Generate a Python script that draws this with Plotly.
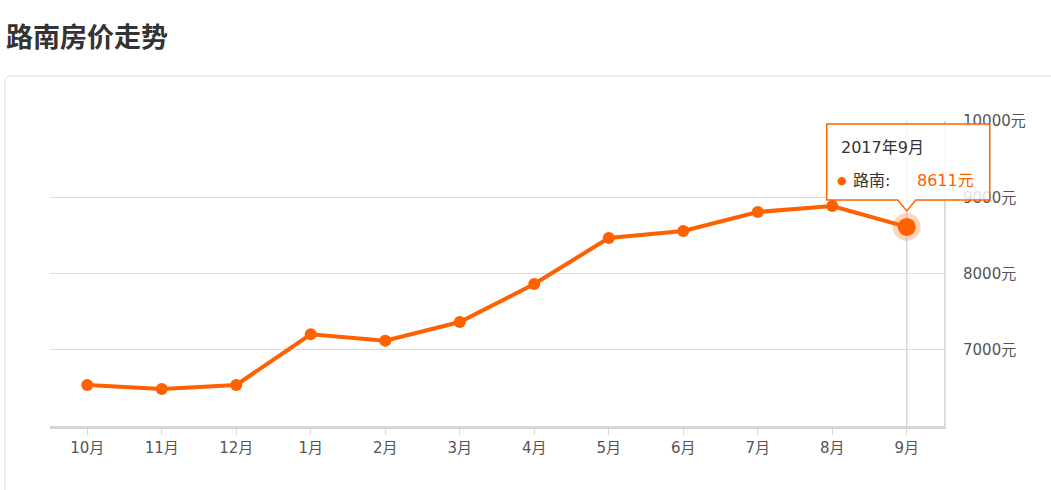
import plotly.graph_objects as go

months = ["10月", "11月", "12月", "1月", "2月", "3月", "4月", "5月", "6月", "7月", "8月", "9月"]
prices = [6538, 6485, 6538, 7203, 7119, 7364, 7862, 8466, 8557, 8807, 8885, 8611]
y_ticks = [7000, 8000, 9000, 10000]
y_labels = ["7000元", "8000元", "9000元", "10000元"]
title_text = "路南房价走势"
series_name = "路南"
tip_title = "2017年9月"

ORANGE = "#ff6000"
FONT = "DejaVu Sans, Noto Sans CJK SC"
CJK = "Noto Sans CJK SC"
hi_idx = len(months) - 1
Y_MIN, Y_MAX = 6000, 10000

# paper position of the highlighted point (derived from the axis ranges)
hi_px = (hi_idx + 0.5) / len(months)
hi_py = (prices[hi_idx] - Y_MIN) / (Y_MAX - Y_MIN)

fig = go.Figure()
fig.add_trace(go.Scatter(
    x=months, y=prices, mode="lines+markers",
    line=dict(color=ORANGE, width=4),
    marker=dict(color=ORANGE, size=12),
    hoverinfo="skip", showlegend=False, cliponaxis=False,
))
fig.add_trace(go.Scatter(
    x=[months[hi_idx]], y=[prices[hi_idx]], mode="markers",
    marker=dict(color="rgba(255,96,0,0.25)", size=28),
    hoverinfo="skip", showlegend=False, cliponaxis=False,
))
fig.add_trace(go.Scatter(
    x=[months[hi_idx]], y=[prices[hi_idx]], mode="markers",
    marker=dict(color=ORANGE, size=18),
    hoverinfo="skip", showlegend=False, cliponaxis=False,
))

shapes = [
    # crosshair
    dict(type="line", xref="x", yref="paper", x0=hi_idx, x1=hi_idx, y0=0, y1=1,
         line=dict(color="#c8c8c8", width=1), layer="below"),
    # outer container border (rounded top-left)
    dict(type="path", xref="paper", yref="paper", xsizemode="pixel", ysizemode="pixel",
         xanchor=0, yanchor=0,
         path="M -45,-80 L -45,344 Q -45,350 -39,350 L 1020,350",
         line=dict(color="#dcdcdc", width=1)),
    # tooltip callout
    dict(type="path", xref="paper", yref="paper", xsizemode="pixel", ysizemode="pixel",
         xanchor=hi_px, yanchor=hi_py,
         path="M -80,103 L 83,103 L 83,27 L 9,27 L 0,16 L -9,27 L -80,27 Z",
         fillcolor="rgba(255,255,255,0.82)", line=dict(color=ORANGE, width=1.5), layer="above"),
]

annotations = [
    dict(text=f"<b>{title_text}</b>", xref="paper", yref="paper", x=0, y=1,
         xshift=-46, yshift=86, showarrow=False,
         xanchor="left", yanchor="middle", font=dict(family=CJK, size=27, color="#333")),
    dict(text=tip_title, xref="x", yref="y", x=hi_idx, y=prices[hi_idx],
         xshift=-68, yshift=79, showarrow=False, xanchor="left", yanchor="middle",
         font=dict(family=FONT, size=16, color="#333")),
    dict(text="●", xref="x", yref="y", x=hi_idx, y=prices[hi_idx],
         xshift=-65, yshift=46, showarrow=False, xanchor="center", yanchor="middle",
         font=dict(family=FONT, size=11, color=ORANGE)),
    dict(text=f"{series_name}:", xref="x", yref="y", x=hi_idx, y=prices[hi_idx],
         xshift=-56, yshift=46, showarrow=False, xanchor="left", yanchor="middle",
         font=dict(family=FONT, size=16, color="#333")),
    dict(text=f"{prices[hi_idx]}元", xref="x", yref="y", x=hi_idx, y=prices[hi_idx],
         xshift=8, yshift=46, showarrow=False, xanchor="left", yanchor="middle",
         font=dict(family=FONT, size=16, color=ORANGE)),
]

fig.update_layout(
    width=1051, height=490,
    margin=dict(l=50, r=107, t=121, b=64),
    paper_bgcolor="white", plot_bgcolor="white",
    font=dict(family=FONT, size=15, color="#555"),
    shapes=shapes, annotations=annotations,
    xaxis=dict(type="category", range=[-0.5, len(months) - 0.5],
               showline=True, linecolor="#d6d6d6", linewidth=3,
               ticks="outside", ticklen=6, tickcolor="#d6d6d6", tickwidth=1,
               showgrid=False, zeroline=False, fixedrange=True,
               tickfont=dict(family=FONT, size=15, color="#555")),
    yaxis=dict(side="right", range=[Y_MIN, Y_MAX], tickvals=y_ticks, ticktext=y_labels,
               showline=True, linecolor="#dcdcdc", linewidth=2,
               showgrid=True, gridcolor="#dcdcdc", gridwidth=1,
               zeroline=False, ticks="", ticklabelstandoff=14, fixedrange=True,
               tickfont=dict(family=FONT, size=15, color="#555")),
)

fig.write_html("out.html", config={"displayModeBar": False},
               post_script="document.body.style.margin='0px';document.body.style.overflow='hidden';")
